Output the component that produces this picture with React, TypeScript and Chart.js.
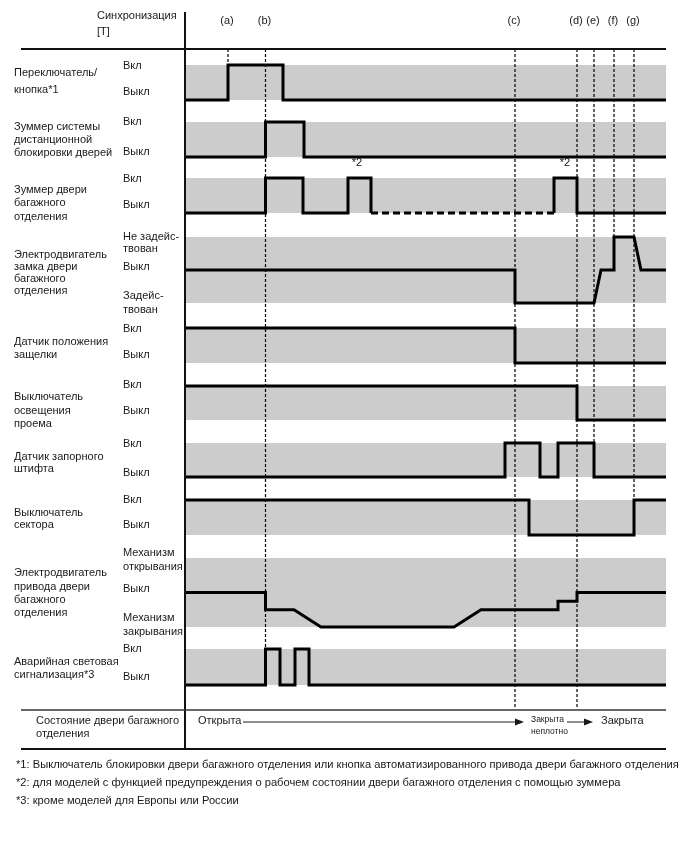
import React, { useEffect, useRef } from "react";
import { Chart, registerables } from "chart.js";
Chart.register(...registerables);

// ---------- data (time in T units, levels 1 = upper state, 0 = lower state) ----------
const T_END = 96.2;
const eventNames = ["(a)", "(b)", "(c)", "(d)", "(e)", "(f)", "(g)"];
const eventTimes = [8.6, 16.1, 66, 78.4, 81.8, 85.8, 89.8];

const switchT = [0, 8.6, 8.6, 19.6, 19.6, T_END];
const switchV = [0, 0, 1, 1, 0, 0];

const remoteBuzzerT = [0, 16.1, 16.1, 23.8, 23.8, T_END];
const remoteBuzzerV = [0, 0, 1, 1, 0, 0];

const trunkBuzzerT = [0, 16.1, 16.1, 23.6, 23.6, 32.6, 32.6, 37.2, 37.2, 73.8, 73.8, 78.4, 78.4, T_END];
const trunkBuzzerV = [0, 0, 1, 1, 0, 0, 1, 1, 0, 0, 1, 1, 0, 0];
const trunkBuzzerDashFrom = 37.2; // optional (*2) section

const lockMotorT = [0, 66, 66, 81.8, 83.2, 85.8, 85.8, 89.8, 91.2, T_END];
const lockMotorV = [0.5, 0.5, 0, 0, 0.5, 0.5, 1, 1, 0.5, 0.5];

const latchSensorT = [0, 66, 66, T_END];
const latchSensorV = [1, 1, 0, 0];

const courtesySwitchT = [0, 78.4, 78.4, T_END];
const courtesySwitchV = [1, 1, 0, 0];

const pinSensorT = [0, 64, 64, 71, 71, 74.6, 74.6, 81.8, 81.8, T_END];
const pinSensorV = [0, 0, 1, 1, 0, 0, 1, 1, 0, 0];

const sectorSwitchT = [0, 68.8, 68.8, 89.8, 89.8, T_END];
const sectorSwitchV = [1, 1, 0, 0, 1, 1];

const driveMotorT = [0, 16.1, 16.1, 21.8, 27.2, 53.8, 59.2, 74.6, 74.6, 78.4, 78.4, T_END];
const driveMotorV = [0.5, 0.5, 0.25, 0.25, 0, 0, 0.25, 0.25, 0.375, 0.375, 0.5, 0.5];

const hazardT = [0, 16.1, 16.1, 19, 19, 22, 22, 24.8, 24.8, T_END];
const hazardV = [0, 0, 1, 1, 0, 0, 1, 1, 0, 0];

const signalTimes = [switchT, remoteBuzzerT, trunkBuzzerT, lockMotorT, latchSensorT, courtesySwitchT, pinSensorT, sectorSwitchT, driveMotorT, hazardT];
const signalLevels = [switchV, remoteBuzzerV, trunkBuzzerV, lockMotorV, latchSensorV, courtesySwitchV, pinSensorV, sectorSwitchV, driveMotorV, hazardV];

const rowTitles = [
  ["Переключатель/", "кнопка*1"],
  ["Зуммер системы", "дистанционной", "блокировки дверей"],
  ["Зуммер двери", "багажного", "отделения"],
  ["Электродвигатель", "замка двери", "багажного", "отделения"],
  ["Датчик положения", "защелки"],
  ["Выключатель", "освещения", "проема"],
  ["Датчик запорного", "штифта"],
  ["Выключатель", "сектора"],
  ["Электродвигатель", "привода двери", "багажного", "отделения"],
  ["Аварийная световая", "сигнализация*3"],
];
const levelLabels = [
  ["Вкл", "Выкл"],
  ["Вкл", "Выкл"],
  ["Вкл", "Выкл"],
  ["Не задейс-", "твован", "Выкл", "Задейс-", "твован"],
  ["Вкл", "Выкл"],
  ["Вкл", "Выкл"],
  ["Вкл", "Выкл"],
  ["Вкл", "Выкл"],
  ["Механизм", "открывания", "Выкл", "Механизм", "закрывания"],
  ["Вкл", "Выкл"],
];
const footnotes = [
  "*1: Выключатель блокировки двери багажного отделения или кнопка автоматизированного привода двери багажного отделения",
  "*2: для моделей с функцией предупреждения о рабочем состоянии двери багажного отделения с помощью зуммера",
  "*3: кроме моделей для Европы или России",
];
const headerLines = ["Синхронизация", "[T]"];
const stateTitle = ["Состояние двери багажного", "отделения"];
const stateOpen = "Открыта";
const stateHalf = ["Закрыта", "неплотно"];
const stateClosed = "Закрыта";
const noteMark = "*2";
const noteTimes = [34.4, 76];

// ---------- layout (page pixels) ----------
const W = 688;
const H = 852;
const PLOT_L = 185, PLOT_R = 666, PLOT_T = 49, PLOT_B = 749;
const rowTop = [65, 122, 178, 237, 328, 386, 443, 500, 558, 649];
const rowBottom = [100, 157, 213, 303, 363, 420, 477, 535, 627, 685];
const titleY = [
  [73, 90], [127, 140, 153], [190, 203, 217], [255, 267, 279, 291], [342, 355],
  [397, 411, 424], [457, 469], [513, 525], [573, 587, 600, 613], [662, 675],
];
const levelY = [
  [66, 92], [122, 152], [179, 205], [237, 249, 267, 296, 310], [329, 355],
  [385, 411], [444, 473], [500, 525], [553, 567, 589, 618, 632], [649, 677],
];
const eventLineEnd = [65, 649, 709, 709, 443, 237, 500];
const footnoteY = [765, 783, 801];
const FONT = '"Liberation Sans", Arial, sans-serif';
const INK = "#1a1a1a";
const BAND = "#cccccc";

const levelToY = (row: number, v: number) => rowBottom[row] - v * (rowBottom[row] - rowTop[row]);

const arrow = (ctx: CanvasRenderingContext2D, x1: number, x2: number, y: number) => {
  ctx.beginPath();
  ctx.moveTo(x1, y);
  ctx.lineTo(x2 - 7, y);
  ctx.stroke();
  ctx.beginPath();
  ctx.moveTo(x2, y);
  ctx.lineTo(x2 - 9, y - 3.5);
  ctx.lineTo(x2 - 9, y + 3.5);
  ctx.closePath();
  ctx.fill();
};

const diagramPlugin = {
  id: "diagram",
  beforeDatasetsDraw(chart: any) {
    const { ctx, scales } = chart;
    const xs = scales.x, ys = scales.y;
    ctx.save();
    ctx.fillStyle = BAND;
    for (let r = 0; r < rowTop.length; r++) {
      const x0 = xs.getPixelForValue(0);
      const x1 = xs.getPixelForValue(T_END);
      const y0 = ys.getPixelForValue(rowTop[r]);
      const y1 = ys.getPixelForValue(rowBottom[r]);
      ctx.fillRect(x0, y0, x1 - x0, y1 - y0);
    }
    ctx.restore();
  },
  afterDraw(chart: any) {
    const { ctx, scales } = chart;
    const xs = scales.x;
    ctx.save();
    // frame lines
    ctx.strokeStyle = "#111";
    ctx.lineWidth = 2;
    ctx.beginPath();
    ctx.moveTo(21, PLOT_T); ctx.lineTo(PLOT_R, PLOT_T);
    ctx.moveTo(21, PLOT_B); ctx.lineTo(PLOT_R, PLOT_B);
    ctx.moveTo(xs.getPixelForValue(0), 12); ctx.lineTo(xs.getPixelForValue(0), PLOT_B);
    ctx.stroke();
    ctx.lineWidth = 1.5;
    ctx.strokeStyle = "#333";
    ctx.beginPath();
    ctx.moveTo(21, 710); ctx.lineTo(PLOT_R, 710);
    ctx.stroke();

    ctx.fillStyle = INK;
    ctx.textBaseline = "middle";
    ctx.textAlign = "left";
    ctx.font = `11px ${FONT}`;
    headerLines.forEach((t, i) => ctx.fillText(t, 97, 16 + i * 16));
    ctx.textAlign = "center";
    eventNames.forEach((n, i) => {
      ctx.fillText(n, xs.getPixelForValue(eventTimes[i]) - 1, 21);
    });
    noteTimes.forEach((t) => ctx.fillText(noteMark, xs.getPixelForValue(t), 163));
    ctx.textAlign = "left";
    rowTitles.forEach((lines, r) => lines.forEach((t, i) => ctx.fillText(t, 14, titleY[r][i])));
    levelLabels.forEach((lines, r) => lines.forEach((t, i) => ctx.fillText(t, 123, levelY[r][i])));

    // state row
    stateTitle.forEach((t, i) => ctx.fillText(t, 36, 721 + i * 13));
    ctx.fillText(stateOpen, 198, 721);
    ctx.fillText(stateClosed, 601, 721);
    ctx.strokeStyle = INK;
    ctx.lineWidth = 1;
    arrow(ctx, 243, 524, 722);
    arrow(ctx, 567, 593, 722);
    ctx.font = `8.5px ${FONT}`;
    ctx.fillText(stateHalf[0], 531, 720);
    ctx.fillText(stateHalf[1], 531, 732);

    // footnotes
    ctx.font = `11.15px ${FONT}`;
    footnotes.forEach((t, i) => ctx.fillText(t, 16, footnoteY[i]));
    ctx.restore();
  },
};

export default function App() {
  const ref = useRef<HTMLCanvasElement | null>(null);
  useEffect(() => {
    document.body.style.margin = "0";
    const canvas = ref.current!;
    const datasets: any[] = [];
    eventTimes.forEach((t, i) => {
      datasets.push({
        data: [{ x: t, y: PLOT_T }, { x: t, y: eventLineEnd[i] }],
        borderColor: "#000",
        borderWidth: 1.2,
        borderDash: [3, 2],
        pointRadius: 0,
        fill: false,
        order: 2,
      });
    });
    signalTimes.forEach((ts, r) => {
      datasets.push({
        data: ts.map((t, i) => ({ x: t, y: levelToY(r, signalLevels[r][i]) })),
        borderColor: "#000",
        borderWidth: 3,
        pointRadius: 0,
        fill: false,
        tension: 0,
        borderJoinStyle: "miter",
        borderCapStyle: "butt",
        order: 1,
        segment: r === 2 ? {
          borderDash: (c: any) => (c.p0.parsed.x === trunkBuzzerDashFrom && c.p1.parsed.x > trunkBuzzerDashFrom ? [7, 4] : undefined),
        } : undefined,
      });
    });
    const chart = new Chart(canvas, {
      type: "line",
      data: { datasets },
      options: {
        animation: false,
        responsive: false,
        maintainAspectRatio: false,
        devicePixelRatio: 1,
        layout: { padding: { left: PLOT_L, right: W - PLOT_R, top: PLOT_T, bottom: H - PLOT_B } },
        scales: {
          x: { type: "linear", min: 0, max: T_END, display: false },
          y: { type: "linear", min: PLOT_T, max: PLOT_B, reverse: true, display: false },
        },
        plugins: { legend: { display: false }, tooltip: { enabled: false } },
      },
      plugins: [diagramPlugin],
    });
    return () => chart.destroy();
  }, []);
  return <canvas ref={ref} width={W} height={H} style={{ display: "block", width: W, height: H }} />;
}
